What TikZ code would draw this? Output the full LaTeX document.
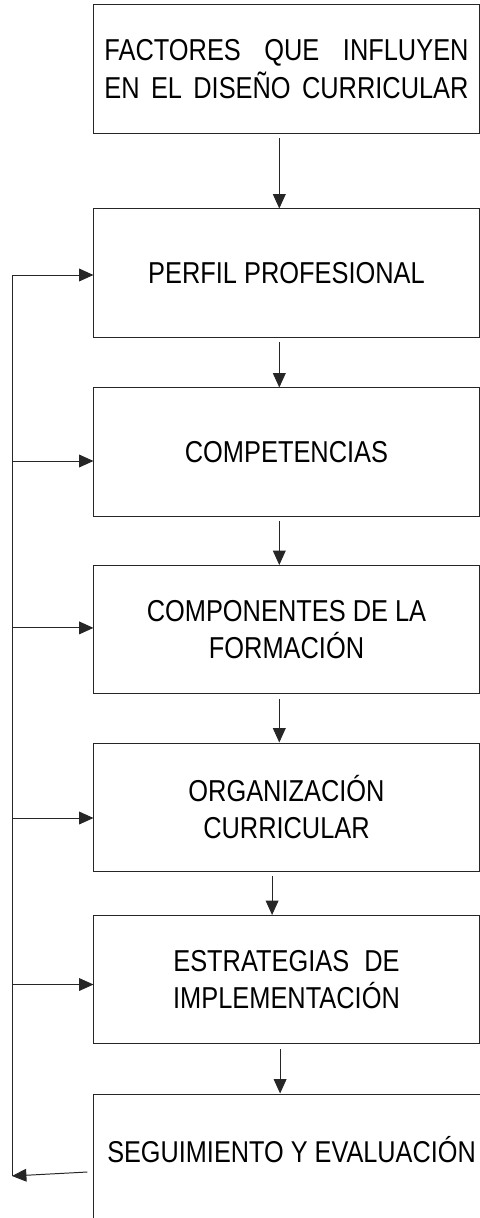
\documentclass[tikz,border=0pt]{standalone}
\usepackage{fontspec}
\setmainfont{Liberation Sans}[FakeStretch=0.84]
\usetikzlibrary{arrows.meta, positioning}
\colorlet{linea}{black!85}

\tikzset{
  caja/.style={draw=linea, line width=0.7pt, minimum width=9.625cm, minimum height=3.2cm,
    inner sep=0pt, align=center, font=\fontsize{21.5}{26.5}\selectfont},
  flecha/.style={-{Triangle[length=0.36cm, width=0.32cm]}, draw=linea, line width=0.7pt},
  retro/.style={draw=linea, line width=0.7pt}
}

\begin{document}
\begin{tikzpicture}[x=0.025cm, y=-0.025cm]
    \useasboundingbox (0,0) rectangle (480,1218);

    % Boxes of the sequence
    \node[caja] (factores) at (286.5,69)
      {\makebox[9.1cm][s]{FACTORES QUE INFLUYEN}\\\makebox[9.1cm][s]{EN EL DISEÑO CURRICULAR}};
    \node[caja] (perfil) at (286.5,273) {PERFIL PROFESIONAL};
    \node[caja] (competencias) at (286.5,452) {COMPETENCIAS};
    \node[caja] (componentes) at (286.5,629.5) {COMPONENTES DE LA\\FORMACIÓN};
    \node[caja] (organizacion) at (286.5,807) {ORGANIZACIÓN\\CURRICULAR};
    \node[caja] (estrategias) at (286.5,979.5) {ESTRATEGIAS\enspace DE\\IMPLEMENTACIÓN};
    \node[caja, minimum width=10.3cm] (seguimiento) at (300,1158) {};
    \node[font=\fontsize{21.4}{26}\selectfont, inner sep=0pt] (segtexto) at (291.5,1150) {SEGUIMIENTO Y EVALUACIÓN};

    % Arrows down the chain
    \foreach \a/\b/\s in {factores/perfil/-0.18, perfil/competencias/-0.18,
        competencias/componentes/-0.18, componentes/organizacion/-0.18,
        organizacion/estrategias/-0.36, estrategias/seguimiento/-0.16} {
      \draw[flecha, shorten <=0.12cm] ([xshift=\s cm]\a.south) -- ([xshift=\s cm]\a.south |- \b.north);
    }

    % Feedback line on the left
    \coordinate (arriba) at (12,275);
    \coordinate (abajo) at (12,1176);
    \draw[retro] (arriba) -- (abajo);

    \foreach \b/\dy in {perfil/-0.05, competencias/-0.225, componentes/0.04,
        organizacion/-0.275, estrategias/-0.125} {
      \draw[flecha] ([yshift=\dy cm]\b.west -| arriba) -- ([yshift=\dy cm]\b.west);
    }

    % Return from the last box
    \draw[flecha] ([xshift=-0.15cm, yshift=-0.35cm]seguimiento.west) -- (abajo);
  \end{tikzpicture}
\end{document}
